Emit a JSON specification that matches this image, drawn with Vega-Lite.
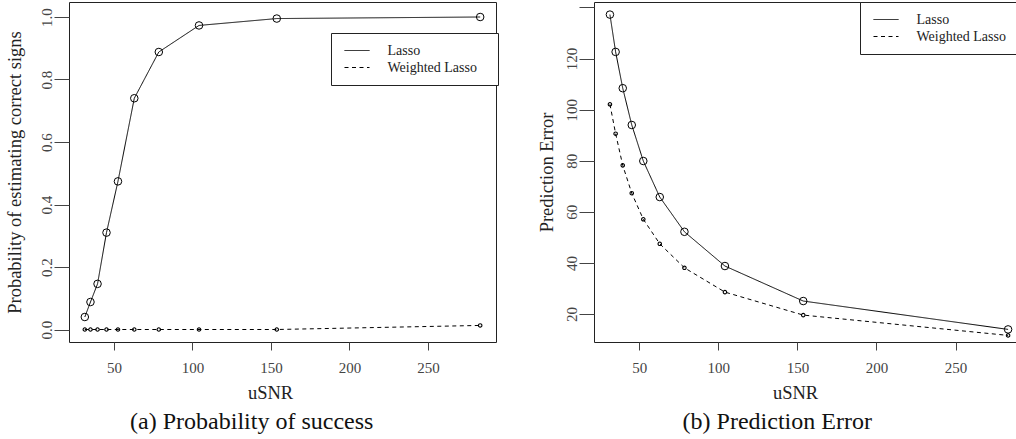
{
  "$schema": "https://vega.github.io/schema/vega-lite/v6.json",
  "padding": {"left": 4, "top": 1, "right": 0, "bottom": 0},
  "spacing": 37,
  "background": "white",
  "config": {
    "font": "Liberation Serif",
    "view": {"stroke": "#222", "strokeWidth": 1},
    "axis": {
      "grid": false, "domain": false,
      "tickColor": "#444", "tickWidth": 1,
      "labelFont": "Liberation Serif", "labelFontSize": 15, "labelColor": "#444",
      "titleFont": "Liberation Serif", "titleFontSize": 18.5, "titleFontWeight": "normal", "titleColor": "#222"
    },
    "axisX": {"tickSize": 8, "labelPadding": 10, "titlePadding": 8, "minExtent": 33, "maxExtent": 33, "labelAngle": 0, "titleX": 201},
    "axisY": {"tickSize": 15, "labelPadding": 3, "labelAngle": -90, "labelAlign": "center", "labelBaseline": "alphabetic", "minExtent": 33, "maxExtent": 33},
    "legend": {
      "strokeColor": "#222", "fillColor": "white", "padding": 10.5,
      "symbolType": "M-2.5,0H2.5", "symbolSize": 100, "symbolStrokeWidth": 1, "symbolStrokeColor": "black", "symbolFillColor": "transparent", "symbolOffset": 8.5,
      "labelFont": "Liberation Serif", "labelFontSize": 14, "labelColor": "#222", "labelOffset": 23.5, "rowPadding": 3
    },
    "title": {"orient": "bottom", "anchor": "middle", "frame": "bounds", "offset": 8, "fontSize": 24, "fontWeight": "normal", "font": "Liberation Serif", "color": "#111"}
  },
  "resolve": {"scale": {"strokeDash": "independent"}, "legend": {"strokeDash": "independent"}},
  "hconcat": [
    {
      "width": 427,
      "height": 340,
      "title": {"text": "(a) Probability of success"},
      "data": {"values": [
        {"uSNR": 31.5, "value": 0.04, "method": "Lasso"},
        {"uSNR": 35.1, "value": 0.088, "method": "Lasso"},
        {"uSNR": 39.6, "value": 0.146, "method": "Lasso"},
        {"uSNR": 45.3, "value": 0.31, "method": "Lasso"},
        {"uSNR": 52.6, "value": 0.474, "method": "Lasso"},
        {"uSNR": 63.0, "value": 0.74, "method": "Lasso"},
        {"uSNR": 78.6, "value": 0.888, "method": "Lasso"},
        {"uSNR": 104.2, "value": 0.973, "method": "Lasso"},
        {"uSNR": 153.7, "value": 0.995, "method": "Lasso"},
        {"uSNR": 283.2, "value": 1.0, "method": "Lasso"},
        {"uSNR": 31.5, "value": 0.0, "method": "Weighted Lasso"},
        {"uSNR": 35.1, "value": 0.0, "method": "Weighted Lasso"},
        {"uSNR": 39.6, "value": 0.0, "method": "Weighted Lasso"},
        {"uSNR": 45.3, "value": 0.0, "method": "Weighted Lasso"},
        {"uSNR": 52.6, "value": 0.0, "method": "Weighted Lasso"},
        {"uSNR": 63.0, "value": 0.0, "method": "Weighted Lasso"},
        {"uSNR": 78.6, "value": 0.0, "method": "Weighted Lasso"},
        {"uSNR": 104.2, "value": 0.0, "method": "Weighted Lasso"},
        {"uSNR": 153.7, "value": 0.0, "method": "Weighted Lasso"},
        {"uSNR": 283.2, "value": 0.013, "method": "Weighted Lasso"}
      ]},
      "encoding": {
        "x": {"field": "uSNR", "type": "quantitative", "scale": {"domain": [21.43, 293.27], "nice": false, "zero": false}, "axis": {"values": [50, 100, 150, 200, 250], "title": "uSNR"}},
        "y": {"field": "value", "type": "quantitative", "scale": {"domain": [-0.04, 1.048], "nice": false, "zero": false}, "axis": {"values": [0, 0.2, 0.4, 0.6, 0.8, 1], "format": ".1f", "title": "Probability of estimating correct signs", "titlePadding": 12}}
      },
      "layer": [
        {
          "mark": {"type": "line", "color": "black", "strokeWidth": 1},
          "encoding": {
            "strokeDash": {"field": "method", "type": "nominal", "scale": {"domain": ["Lasso", "Weighted Lasso"], "range": [[1, 0], [4, 3.5]]},
              "legend": {"title": null, "orient": "none", "legendX": 262, "legendY": 31, "labelExpr": "datum.label + '\u2800'"}}
          }
        },
        {
          "transform": [{"filter": "datum.method == 'Lasso'"}],
          "mark": {"type": "point", "shape": "circle", "size": 57, "filled": false, "color": "black", "strokeWidth": 1, "opacity": 1}
        },
        {
          "transform": [{"filter": "datum.method == 'Weighted Lasso'"}],
          "mark": {"type": "point", "shape": "circle", "size": 12, "filled": false, "color": "black", "strokeWidth": 1.1, "opacity": 1}
        }
      ]
    },
    {
      "width": 422,
      "height": 340,
      "title": {"text": "(b) Prediction Error"},
      "data": {"values": [
        {"uSNR": 31.5, "value": 137.2, "method": "Lasso"},
        {"uSNR": 35.1, "value": 122.6, "method": "Lasso"},
        {"uSNR": 39.6, "value": 108.4, "method": "Lasso"},
        {"uSNR": 45.3, "value": 94.0, "method": "Lasso"},
        {"uSNR": 52.6, "value": 79.9, "method": "Lasso"},
        {"uSNR": 63.0, "value": 65.8, "method": "Lasso"},
        {"uSNR": 78.6, "value": 52.2, "method": "Lasso"},
        {"uSNR": 104.2, "value": 38.8, "method": "Lasso"},
        {"uSNR": 153.7, "value": 25.1, "method": "Lasso"},
        {"uSNR": 283.2, "value": 14.0, "method": "Lasso"},
        {"uSNR": 31.5, "value": 102.1, "method": "Weighted Lasso"},
        {"uSNR": 35.1, "value": 90.6, "method": "Weighted Lasso"},
        {"uSNR": 39.6, "value": 78.2, "method": "Weighted Lasso"},
        {"uSNR": 45.3, "value": 67.3, "method": "Weighted Lasso"},
        {"uSNR": 52.6, "value": 57.1, "method": "Weighted Lasso"},
        {"uSNR": 63.0, "value": 47.5, "method": "Weighted Lasso"},
        {"uSNR": 78.6, "value": 38.1, "method": "Weighted Lasso"},
        {"uSNR": 104.2, "value": 28.6, "method": "Weighted Lasso"},
        {"uSNR": 153.7, "value": 19.6, "method": "Weighted Lasso"},
        {"uSNR": 283.2, "value": 11.65, "method": "Weighted Lasso"}
      ]},
      "encoding": {
        "x": {"field": "uSNR", "type": "quantitative", "scale": {"domain": [21.43, 288.2], "nice": false, "zero": false}, "axis": {"values": [50, 100, 150, 200, 250], "title": "uSNR"}},
        "y": {"field": "value", "type": "quantitative", "scale": {"domain": [9.07, 142.13], "nice": false, "zero": false}, "axis": {"values": [20, 40, 60, 80, 100, 120, 140], "labelExpr": "datum.value == 140 ? '' : datum.label", "title": "Prediction Error", "titlePadding": 5}}
      },
      "layer": [
        {
          "mark": {"type": "line", "color": "black", "strokeWidth": 1},
          "encoding": {
            "strokeDash": {"field": "method", "type": "nominal", "scale": {"domain": ["Lasso", "Weighted Lasso"], "range": [[1, 0], [4, 3.5]]},
              "legend": {"title": null, "orient": "none", "legendX": 266, "legendY": 0}}
          }
        },
        {
          "transform": [{"filter": "datum.method == 'Lasso'"}],
          "mark": {"type": "point", "shape": "circle", "size": 57, "filled": false, "color": "black", "strokeWidth": 1, "opacity": 1}
        },
        {
          "transform": [{"filter": "datum.method == 'Weighted Lasso'"}],
          "mark": {"type": "point", "shape": "circle", "size": 12, "filled": false, "color": "black", "strokeWidth": 1.1, "opacity": 1}
        }
      ]
    }
  ]
}
